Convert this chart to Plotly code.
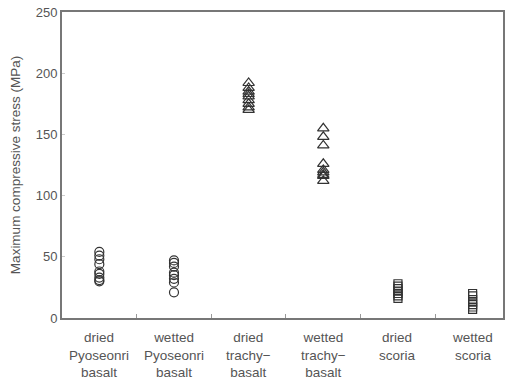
import plotly.graph_objects as go

categories = ["dried<br>Pyoseonri<br>basalt", "wetted<br>Pyoseonri<br>basalt",
              "dried<br>trachy−<br>basalt", "wetted<br>trachy−<br>basalt",
              "dried<br>scoria", "wetted<br>scoria"]

dried_pyoseonri = [54, 51, 48, 44, 38, 36, 33, 31, 30]
wetted_pyoseonri = [47, 45, 42, 37, 35, 32, 29, 21]
dried_trachy = [192, 188, 185, 183, 181, 178, 175, 172, 170]
wetted_trachy = [155, 148, 141, 126, 121, 119, 117, 116, 112]
dried_scoria = [28, 26, 24, 22, 20, 18, 16]
wetted_scoria = [20, 18, 15, 13, 11, 9, 7]

series = [dried_pyoseonri, wetted_pyoseonri, dried_trachy, wetted_trachy, dried_scoria, wetted_scoria]
symbols = ["circle-open", "circle-open", "triangle-up-open", "triangle-up-open", "square-open", "square-open"]
sizes = [9, 9, 10, 10, 8, 8]

y_ticks = [0, 50, 100, 150, 200, 250]

fig = go.Figure()
for i, vals in enumerate(series):
    fig.add_trace(go.Scatter(
        x=[i] * len(vals), y=vals, mode="markers",
        marker=dict(symbol=symbols[i], size=sizes[i], color="#333",
                    line=dict(color="#333", width=1.2)),
        showlegend=False, hoverinfo="y"))

for i, lab in enumerate(categories):
    fig.add_annotation(x=i, y=0, xref="x", yref="paper", text=lab, showarrow=False,
                       yanchor="top", yshift=-10,
                       font=dict(family="Liberation Sans, Arial, sans-serif", size=13.5, color="#555"))

fig.update_layout(
    width=506, height=382,
    margin=dict(l=62, r=1, t=12, b=64),
    paper_bgcolor="white", plot_bgcolor="white",
    font=dict(family="Liberation Sans, Arial, sans-serif", size=12, color="#555"),
    xaxis=dict(range=[-0.5, 5.407], tickvals=[0.5, 1.5, 2.5, 3.5, 4.5], showticklabels=False,
               ticks="inside", ticklen=4, tickcolor="#999", showgrid=False, zeroline=False,
               showline=True, linecolor="#777", linewidth=2, mirror=True),
    yaxis=dict(range=[0, 250], tickvals=y_ticks, ticks="inside", ticklen=3, tickcolor="#ccc",
               showgrid=False, zeroline=False, showline=True, linecolor="#777", linewidth=2, mirror=True,
               title=dict(text="Maximum compressive stress (MPa)", standoff=12,
                          font=dict(size=13.5, color="#555")),
               tickfont=dict(size=13, color="#555")),
)

fig.write_html("out.html")
